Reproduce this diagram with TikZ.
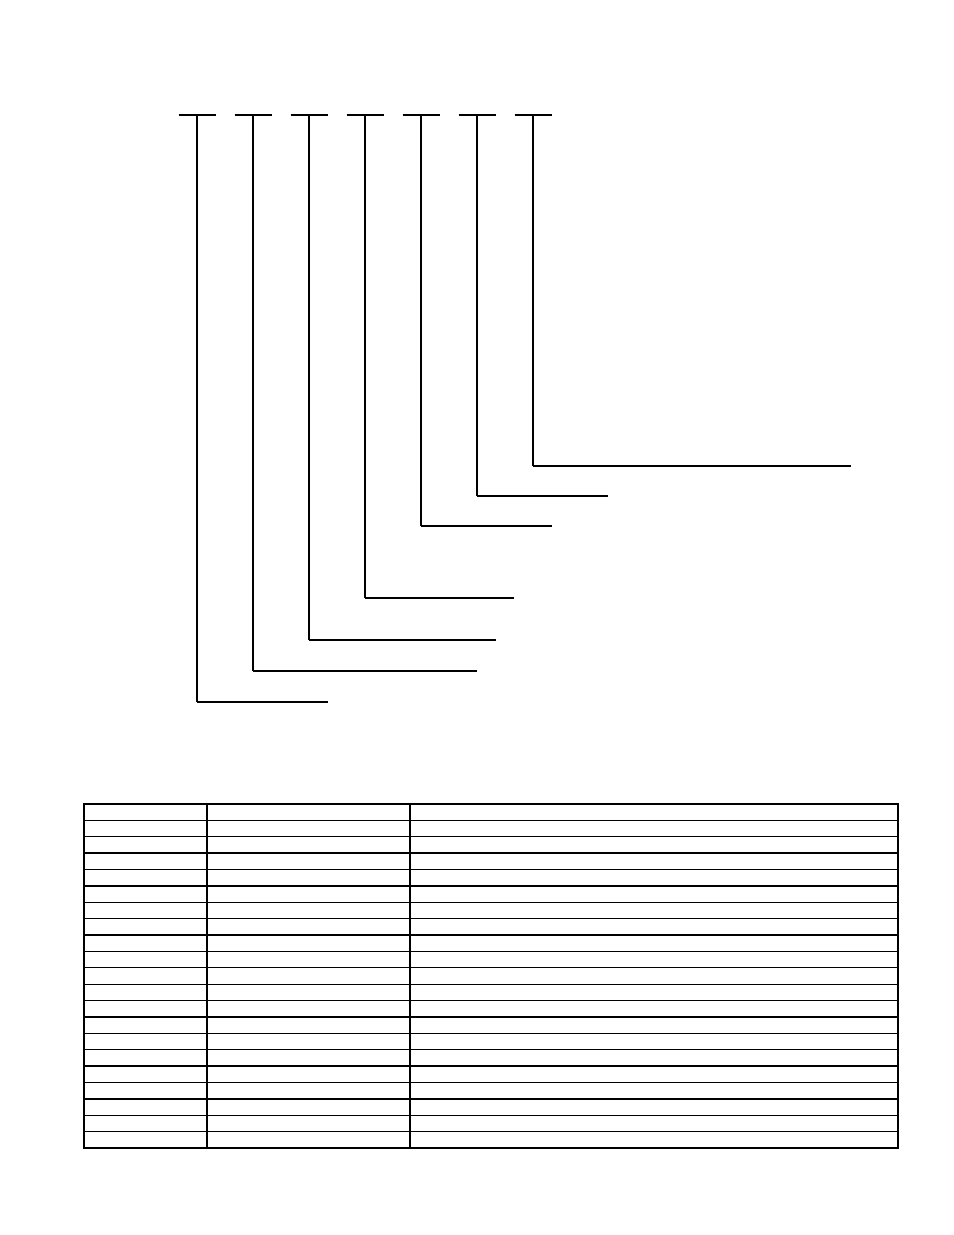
\documentclass[tikz,border=0pt]{standalone}
\begin{document}
\begin{tikzpicture}[x=0.02cm,y=-0.02cm,
    thinline/.style={line width=0.6pt},
    thickline/.style={line width=1.2pt},
    gridline/.style={line width=0.75pt},
    frameline/.style={line width=1.3pt}]

  \useasboundingbox (0,0) rectangle (954,1235);

  % code positions: number / x / y of leader / end of leader / styles
  \foreach \n/\x/\y/\e/\vs/\hs in {
      1/197/702/328/thinline/thinline,
      2/253/671/477/thinline/thickline,
      3/309/640/496/thinline/thickline,
      4/365/598/514/thickline/thinline,
      5/421/526/552/thickline/thickline,
      6/477/496/608/thickline/thickline,
      7/533/466/851/thickline/thinline}
  {
    \coordinate (top\n)    at (\x,115);
    \coordinate (corner\n) at (\x,\y);
    \coordinate (end\n)    at (\e,\y);
    \draw[thinline] (\x-18.5,115) -- (\x+18.5,115);
    \draw[\vs] (top\n) -- (corner\n);
    \draw[\hs] (corner\n) -- (end\n);
  }

  % table
  \coordinate (tl) at (84,804);
  \coordinate (br) at (898,1148);
  \foreach \r in {1,...,20}
    \draw[gridline] (84,804+\r*16.381) -- (898,804+\r*16.381);
  \draw[gridline] (207,804) -- (207,1148);
  \draw[gridline] (410,804) -- (410,1148);
  \draw[frameline] (tl) rectangle (br);

\end{tikzpicture}
\end{document}
